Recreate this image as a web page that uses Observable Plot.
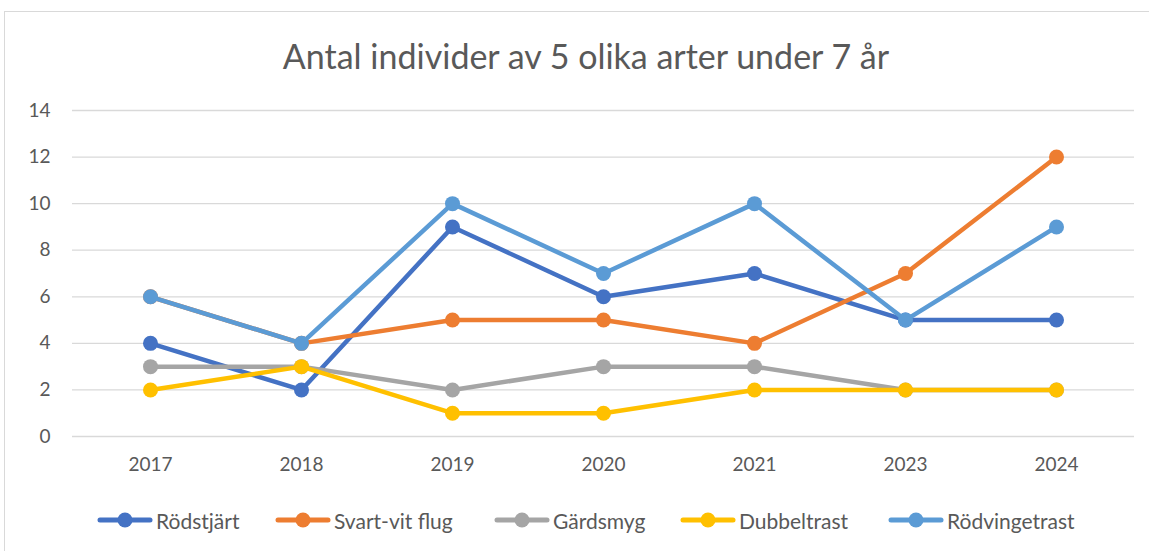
<!DOCTYPE html>
<html><head><meta charset="utf-8">
<script src="https://cdn.jsdelivr.net/npm/d3@7"></script>
<script src="https://cdn.jsdelivr.net/npm/@observablehq/plot@0.6"></script>
<style>
body{margin:0;background:#fff;font-family:Lato,"Open Sans",sans-serif;}
#wrap{position:relative;width:1149px;height:551px;overflow:hidden;}
#frame{position:absolute;left:4px;top:11px;width:1160px;height:560px;border:1px solid #d9d9d9;box-sizing:border-box;}
#title{position:absolute;left:0;top:0;width:1172px;height:95px;line-height:112px;text-align:center;font-size:34px;color:#595959;}
#chart{position:absolute;left:0;top:95px;}
#legend{position:absolute;left:0;top:505px;width:1149px;height:40px;}
.item{position:absolute;top:0;height:30px;display:flex;align-items:center;font-size:21px;color:#595959;}
</style></head><body>
<div id="wrap"><div id="frame"></div><div id="title"></div><div id="chart"></div><div id="legend"></div></div>
<script>
const titleText = "Antal individer av 5 olika arter under 7 år";
const years = ["2017","2018","2019","2020","2021","2023","2024"];
const seriesNames = ["Rödstjärt","Svart-vit flug","Gärdsmyg","Dubbeltrast","Rödvingetrast"];
const colors = ["#4472C4","#ED7D31","#A5A5A5","#FFC000","#5B9BD5"];
const rodstjart = [4,2,9,6,7,5,5];
const svartvit = [6,4,5,5,4,7,12];
const gardsmyg = [3,3,2,3,3,2,2];
const dubbeltrast = [2,3,1,1,2,2,2];
const rodvingetrast = [6,4,10,7,10,5,9];
const yTicks = [0,2,4,6,8,10,12,14];
const legendX = [97,275,494,680,888];

document.getElementById("title").textContent = titleText;
const allSeries = [rodstjart,svartvit,gardsmyg,dubbeltrast,rodvingetrast];
const marks = [
  Plot.gridY(yTicks,{stroke:"#d9d9d9",strokeOpacity:1,strokeWidth:1.3}),
  Plot.axisY(yTicks,{tickSize:0,tickPadding:22,fontSize:19,fill:"#595959",label:null}),
  Plot.axisX({tickSize:0,tickPadding:21,fontSize:19,fill:"#595959",label:null})
];
allSeries.forEach((vals,i)=>{
  const data = years.map((y,j)=>({year:y,value:vals[j]}));
  marks.push(Plot.line(data,{x:"year",y:"value",stroke:colors[i],strokeWidth:4.5,curve:"linear"}));
  marks.push(Plot.dot(data,{x:"year",y:"value",fill:colors[i],r:7.5,stroke:"none"}));
});
const plot = Plot.plot({
  width:1149,height:386,
  marginLeft:72,marginRight:15,marginTop:15,marginBottom:45,
  style:{fontFamily:"Lato, 'Open Sans', sans-serif",background:"transparent",overflow:"visible"},
  x:{type:"point",domain:years,padding:0.5},
  y:{domain:[0,14]},
  marks
});
document.getElementById("chart").appendChild(plot);

const leg = document.getElementById("legend");
seriesNames.forEach((n,i)=>{
  const d = document.createElement("div");
  d.className="item";
  d.style.left = legendX[i]+"px";
  d.innerHTML = `<svg width="56" height="20"><line x1="3" y1="10" x2="53" y2="10" stroke="${colors[i]}" stroke-width="5" stroke-linecap="round"/><circle cx="28" cy="10" r="7.5" fill="${colors[i]}"/></svg><span style="margin-left:3px">${n}</span>`;
  leg.appendChild(d);
});
</script>
</body></html>
